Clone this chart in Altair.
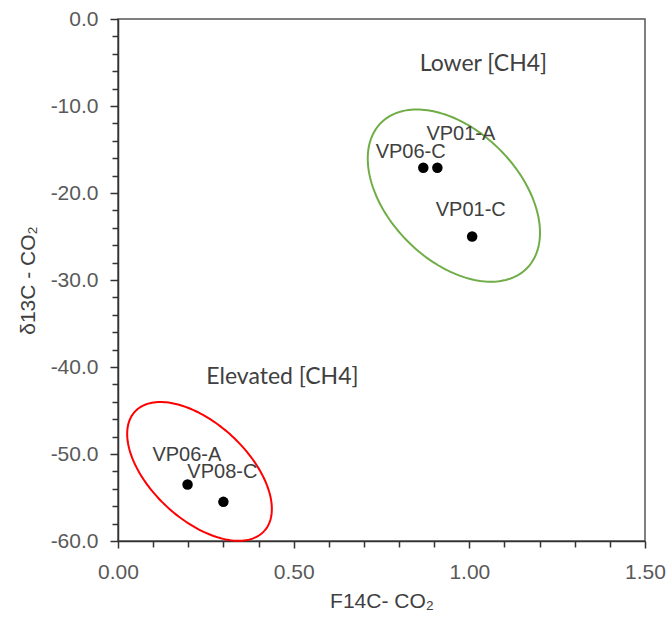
import altair as alt
import pandas as pd
import numpy as np

# ---- data ----
samples = ["VP06-C", "VP01-A", "VP01-C", "VP06-A", "VP08-C"]
f14c = [0.869, 0.909, 1.008, 0.198, 0.300]
d13c = [-17.1, -17.1, -25.0, -53.5, -55.5]
label_x = [0.833, 0.976, 1.004, 0.196, 0.297]
label_y = [-15.3, -13.2, -21.9, -50.1, -52.1]

groups = ["Lower [CH4]", "Elevated [CH4]"]
group_x = [1.040, 0.468]
group_y = [-5.2, -41.2]

ell_cx = [0.956, 0.232]
ell_cy = [-20.3, -52.0]
ell_a_px = [103, 88]
ell_b_px = [65, 48]
ell_angle = [45, 42.8]
ell_color = ["#70AD47", "#FF0000"]

x_ticks = [0.0, 0.1, 0.2, 0.3, 0.4, 0.5, 0.6, 0.7, 0.8, 0.9, 1.0,
           1.1, 1.2, 1.3, 1.4, 1.5]
y_ticks = [0, -2, -4, -6, -8, -10, -12, -14, -16, -18, -20, -22, -24, -26,
           -28, -30, -32, -34, -36, -38, -40, -42, -44, -46, -48, -50, -52,
           -54, -56, -58, -60]

W, H = 527, 522
ppx = W / 1.5
ppy = H / 60.0

# ---- tables ----
pts = pd.DataFrame({"sample": samples, "x": f14c, "y": d13c})
lab = pd.DataFrame({"sample": samples, "x": label_x, "y": label_y})
grp = pd.DataFrame({"group": groups, "x": group_x, "y": group_y})

rows = []
t = np.linspace(0, 2 * np.pi, 181)
for g, cx, cy, a, b, ang, col in zip(groups, ell_cx, ell_cy, ell_a_px,
                                     ell_b_px, ell_angle, ell_color):
    th = np.deg2rad(ang)
    dx = a * np.cos(th) * np.cos(t) - b * np.sin(th) * np.sin(t)
    dy = a * np.sin(th) * np.cos(t) + b * np.cos(th) * np.sin(t)
    for i in range(len(t)):
        rows.append({"group": g, "i": i, "x": cx + dx[i] / ppx,
                     "y": cy - dy[i] / ppy, "color": col})
ell = pd.DataFrame(rows)

xscale = alt.Scale(domain=[0, 1.5], nice=False, zero=False)
yscale = alt.Scale(domain=[-60, 0], nice=False, zero=False)

x_major = "abs(datum.value*2 - round(datum.value*2)) < 1e-6"
y_major = "abs(datum.value/10 - round(datum.value/10)) < 1e-6"

xaxis = alt.Axis(values=x_ticks, title="F14C- CO₂", grid=False,
                 labelExpr=f"{x_major} ? format(datum.value, '.2f') : ''",
                 tickSize={"condition": {"test": x_major, "value": 7}, "value": 6},
                 labelOverlap=False, labelFlush=False, labelPadding=13,
                 titlePadding=8)
yaxis = alt.Axis(values=y_ticks, title="δ13C - CO₂", grid=False,
                 labelExpr=f"{y_major} ? replace(format(datum.value, '.1f'), '\u2212', '-') : ''",
                 tickSize={"condition": {"test": y_major, "value": 8}, "value": 6},
                 labelOverlap=False, labelFlush=False, labelPadding=12,
                 titlePadding=12)


def X():
    return alt.X("x:Q", scale=xscale, axis=xaxis)


def Y():
    return alt.Y("y:Q", scale=yscale, axis=yaxis)


ellipses = alt.Chart(ell).mark_line(strokeWidth=2).encode(
    x=X(), y=Y(),
    detail="group:N",
    order=alt.Order("i:Q"),
    color=alt.Color("color:N", scale=None),
)

points = alt.Chart(pts).mark_circle(size=110, opacity=1, color="black").encode(
    x=X(), y=Y())

labels = alt.Chart(lab).mark_text(
    font="Liberation Sans", fontSize=20, color="#404040",
    align="center", baseline="middle").encode(
    x=X(), y=Y(), text="sample:N")

glabels = alt.Chart(grp).mark_text(
    font="Lato", fontSize=23, color="#404040",
    align="center", baseline="middle").encode(
    x=X(), y=Y(), text="group:N")

chart = alt.layer(ellipses, points, labels, glabels).properties(
    width=W, height=H,
    autosize=alt.AutoSizeParams(type="none"),
    padding={"left": 118, "top": 19, "right": 22, "bottom": 79},
).configure_view(
    stroke="#555555", strokeWidth=1.5
).configure_axis(
    labelFont="Liberation Sans", labelFontSize=21, labelColor="#595959",
    titleFont="Liberation Sans", titleFontSize=21, titleColor="#404040",
    titleFontWeight="normal",
    domainColor="#333333", tickColor="#333333", domainWidth=1.5, tickWidth=1.5,
)

chart.save("out.html", embed_options={"renderer": "svg", "actions": False})
